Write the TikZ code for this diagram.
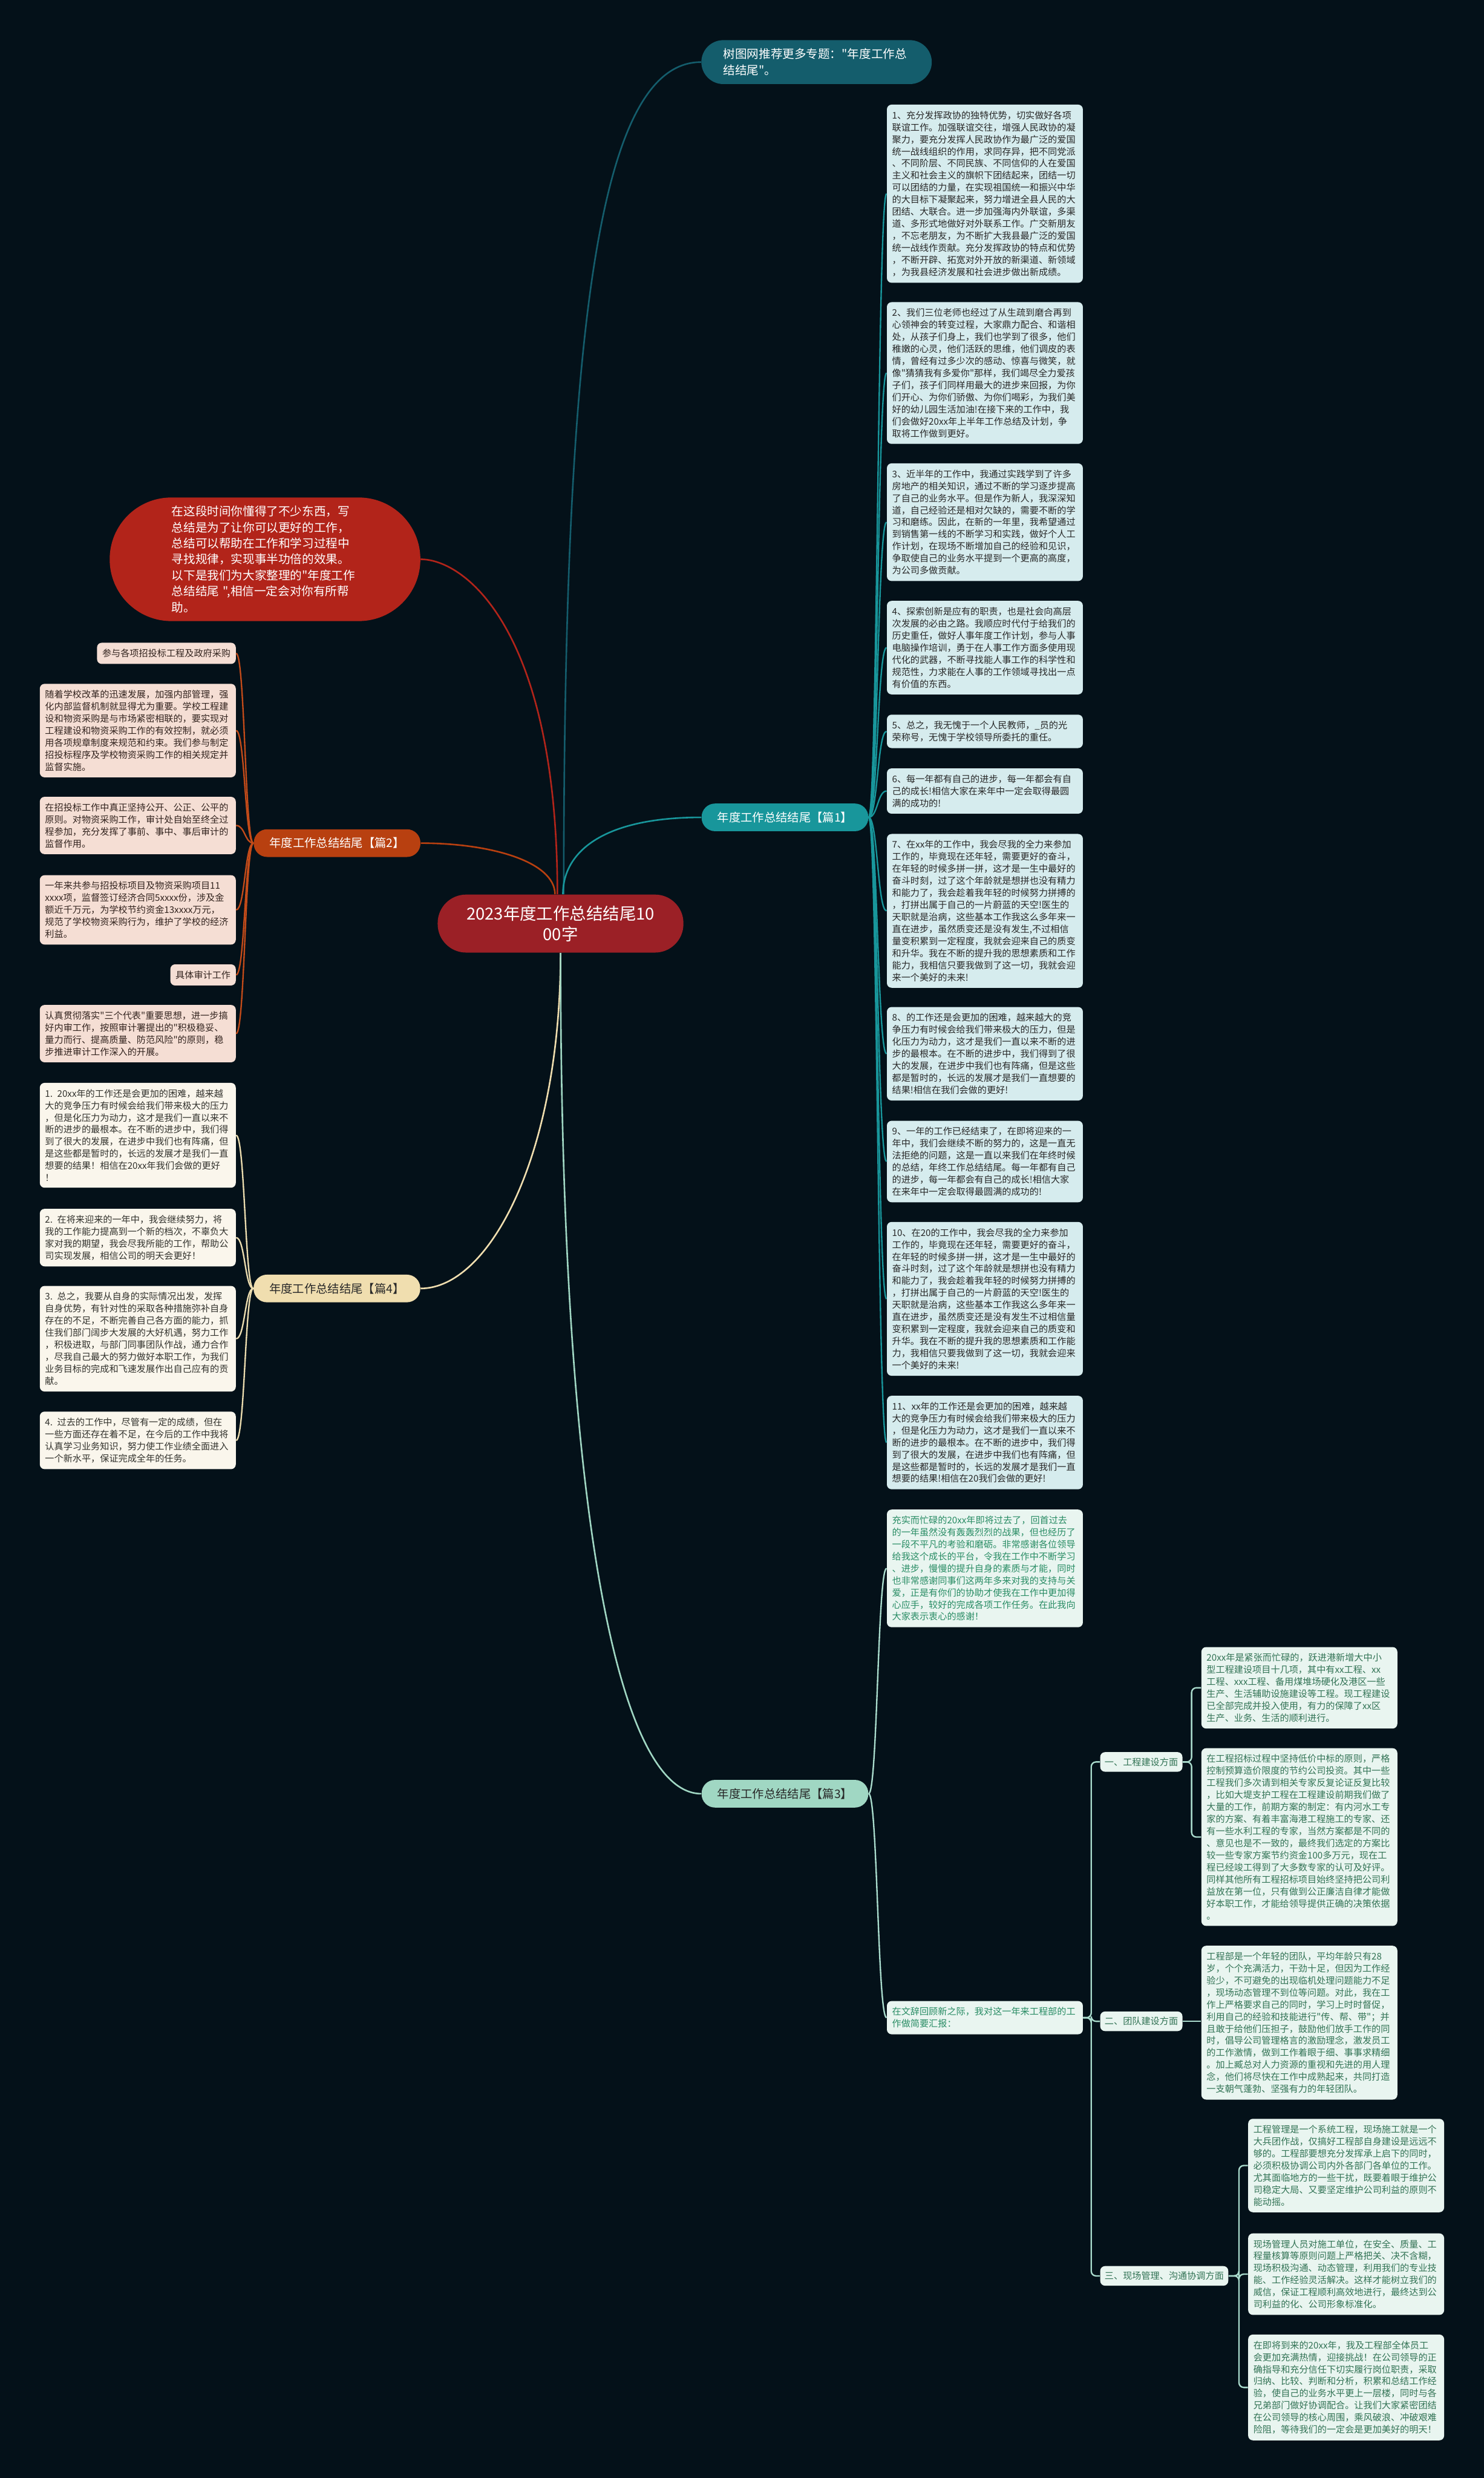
\documentclass[tikz,border=0pt]{standalone}
\usepackage{fontspec}
\setmainfont{Noto Sans CJK SC}
\newfontfamily\cjkf{Noto Sans CJK SC}
\definecolor{bg}{RGB}{4,17,25}
\definecolor{mainred}{RGB}{155,32,38}
\definecolor{topteal}{RGB}{20,93,108}
\definecolor{tealA}{RGB}{24,150,155}
\definecolor{fillA}{RGB}{214,236,238}
\definecolor{textA}{RGB}{40,40,40}
\definecolor{mintC}{RGB}{160,215,195}
\definecolor{lineC}{RGB}{170,220,205}
\definecolor{fillC}{RGB}{233,245,240}
\definecolor{textC}{RGB}{50,115,85}
\definecolor{textC0}{RGB}{40,140,100}
\definecolor{introred}{RGB}{178,36,26}
\definecolor{orangeB}{RGB}{184,64,16}
\definecolor{lineB}{RGB}{195,75,25}
\definecolor{fillB}{RGB}{245,222,212}
\definecolor{textB}{RGB}{50,35,30}
\definecolor{creamD}{RGB}{240,222,175}
\definecolor{lineD}{RGB}{235,220,175}
\definecolor{fillD}{RGB}{250,246,236}
\definecolor{textD}{RGB}{50,50,45}
\tikzset{
  rbox/.style={rounded corners=3pt, inner xsep=3.3pt, inner ysep=4pt, text width=117.4pt, align=left, font=\cjkf\fontsize{5.8}{7.63}\selectfont},
  sbox/.style={rounded corners=3pt, inner xsep=3.3pt, inner ysep=4pt, font=\cjkf\fontsize{5.8}{7.63}\selectfont},
  boxA/.style={rbox, fill=fillA, text=textA, anchor=north west},
  boxC/.style={rbox, fill=fillC, text=textC, anchor=north west},
  boxB/.style={rbox, fill=fillB, text=textB, anchor=north east},
  boxD/.style={rbox, fill=fillD, text=textD, anchor=north east},
  subC/.style={sbox, fill=fillC, text=textC, anchor=north west, inner xsep=2.8pt, inner ysep=3.5pt},
  pill/.style={rounded corners=8.5pt, minimum width=105.5pt, minimum height=17.5pt, inner sep=0pt, font=\cjkf\fontsize{7.4}{9}\selectfont},
  lnA/.style={draw=tealA, line width=0.9pt},
  lnB/.style={draw=lineB, line width=0.9pt},
  lnC/.style={draw=lineC, line width=0.9pt},
  lnD/.style={draw=lineD, line width=0.9pt},
  lnCr/.style={draw=lineC, line width=0.9pt, rounded corners=3pt},
}
\newcommand\sconn[4]{\draw[#1] (#2) .. controls (#4 |- #2) and (#4 |- #3) .. (#3);}
\begin{document}
\cjkf
\begin{tikzpicture}[x=1pt,y=-1pt]
\fill[bg] (0,0) rectangle (939,1568);
\useasboundingbox (0,0) rectangle (939,1568);

% mid-x coordinates for brackets
\coordinate (mA) at (555.3,0);
\coordinate (mB) at (155,0);
\coordinate (tC) at (690.5,0);
\coordinate (tC1) at (754,0);
\coordinate (tC3) at (784,0);

% main node
\node[fill=mainred, text=white, rounded corners=18pt, minimum width=155.5pt, minimum height=36.7pt, align=center, inner sep=0pt, font=\cjkf\fontsize{10.5}{13}\selectfont] (main) at (354.7,584.4) {2023年度工作总结结尾10\\00字};

% top node
\node[fill=topteal, text=white, rounded corners=13.9pt, minimum width=145.8pt, minimum height=27.8pt, text width=118pt, align=left, inner sep=0pt, font=\cjkf\fontsize{7.5}{10.4}\selectfont] (top) at (516.7,39.3) {树图网推荐更多专题："年度工作总\\结结尾"。};

% intro node
\node[fill=introred, text=white, rounded corners=39pt, minimum width=196.6pt, minimum height=78.2pt, text width=118pt, align=left, inner sep=0pt, font=\cjkf\fontsize{7.5}{10.1}\selectfont] (intro) at (167.7,353.9) {在这段时间你懂得了不少东西，写\\总结是为了让你可以更好的工作，\\总结可以帮助在工作和学习过程中\\寻找规律，实现事半功倍的效果。\\以下是我们为大家整理的"年度工作\\总结结尾 ",相信一定会对你有所帮\\助。};

% branch labels
\node[pill, fill=tealA, text=white] (labA) at (496.7,517.2) {年度工作总结结尾【篇1】};
\node[pill, fill=mintC, text=textA] (labC) at (496.7,1135) {年度工作总结结尾【篇3】};
\node[pill, fill=orangeB, text=white] (labB) at (213.3,533.5) {年度工作总结结尾【篇2】};
\node[pill, fill=creamD, text=textA] (labD) at (213.2,815.3) {年度工作总结结尾【篇4】};

% main connectors
\draw[draw=topteal, line width=1pt] ([xshift=2pt]main.north) .. controls (356.7,200) and (380,39.3) .. (top.west);
\draw[draw=tealA, line width=1pt] ([xshift=1.5pt]main.north) .. controls (356.2,540) and (380,517.2) .. (labA.west);
\draw[draw=introred, line width=1pt] ([xshift=-2pt]main.north) .. controls (352.7,400) and (295,353.9) .. (intro.east);
\draw[draw=orangeB, line width=1pt] ([xshift=-3.5pt]main.north) .. controls (351,545) and (310,533.5) .. (labB.east);
\draw[draw=creamD, line width=1pt] (main.south) .. controls (354.7,730) and (310,815.3) .. (labD.east);
\draw[draw=mintC, line width=1pt] (main.south) .. controls (354.7,950) and (390,1135) .. (labC.west);

% ---------- branch 1 ----------
\node[boxA] (a1) at (561,66) {1、充分发挥政协的独特优势，切实做好各项\\联谊工作。加强联谊交往，增强人民政协的凝\\聚力，要充分发挥人民政协作为最广泛的爱国\\统一战线组织的作用，求同存异，把不同党派\\、不同阶层、不同民族、不同信仰的人在爱国\\主义和社会主义的旗帜下团结起来，团结一切\\可以团结的力量，在实现祖国统一和振兴中华\\的大目标下凝聚起来，努力增进全县人民的大\\团结、大联合。进一步加强海内外联谊，多渠\\道、多形式地做好对外联系工作。广交新朋友\\，不忘老朋友，为不断扩大我县最广泛的爱国\\统一战线作贡献。充分发挥政协的特点和优势\\，不断开辟、拓宽对外开放的新渠道、新领域\\，为我县经济发展和社会进步做出新成绩。};
\node[boxA] (a2) at (561,191) {2、我们三位老师也经过了从生疏到磨合再到\\心领神会的转变过程，大家鼎力配合、和谐相\\处，从孩子们身上，我们也学到了很多，他们\\稚嫩的心灵，他们活跃的思维，他们调皮的表\\情，曾经有过多少次的感动、惊喜与微笑，就\\像"猜猜我有多爱你"那样，我们竭尽全力爱孩\\子们，孩子们同样用最大的进步来回报，为你\\们开心、为你们骄傲、为你们喝彩，为我们美\\好的幼儿园生活加油!在接下来的工作中，我\\们会做好20xx年上半年工作总结及计划，争\\取将工作做到更好。};
\node[boxA] (a3) at (561,293) {3、近半年的工作中，我通过实践学到了许多\\房地产的相关知识，通过不断的学习逐步提高\\了自己的业务水平。但是作为新人，我深深知\\道，自己经验还是相对欠缺的，需要不断的学\\习和磨练。因此，在新的一年里，我希望通过\\到销售第一线的不断学习和实践，做好个人工\\作计划，在现场不断增加自己的经验和见识，\\争取使自己的业务水平提到一个更高的高度，\\为公司多做贡献。};
\node[boxA] (a4) at (561,380) {4、探索创新是应有的职责，也是社会向高层\\次发展的必由之路。我顺应时代付于给我们的\\历史重任，做好人事年度工作计划，参与人事\\电脑操作培训，勇于在人事工作方面多使用现\\代化的武器，不断寻找能人事工作的科学性和\\规范性，力求能在人事的工作领域寻找出一点\\有价值的东西。};
\node[boxA] (a5) at (561,452) {5、总之，我无愧于一个人民教师，\_员的光\\荣称号，无愧于学校领导所委托的重任。};
\node[boxA] (a6) at (561,486) {6、每一年都有自己的进步，每一年都会有自\\己的成长!相信大家在来年中一定会取得最圆\\满的成功的!};
\node[boxA] (a7) at (561,527.5) {7、在xx年的工作中，我会尽我的全力来参加\\工作的，毕竟现在还年轻，需要更好的奋斗，\\在年轻的时候多拼一拼，这才是一生中最好的\\奋斗时刻，过了这个年龄就是想拼也没有精力\\和能力了，我会趁着我年轻的时候努力拼搏的\\，打拼出属于自己的一片蔚蓝的天空!医生的\\天职就是治病，这些基本工作我这么多年来一\\直在进步，虽然质变还是没有发生,不过相信\\量变积累到一定程度，我就会迎来自己的质变\\和升华。我在不断的提升我的思想素质和工作\\能力，我相信只要我做到了这一切，我就会迎\\来一个美好的未来!};
\node[boxA] (a8) at (561,637) {8、的工作还是会更加的困难，越来越大的竞\\争压力有时候会给我们带来极大的压力，但是\\化压力为动力，这才是我们一直以来不断的进\\步的最根本。在不断的进步中，我们得到了很\\大的发展，在进步中我们也有阵痛，但是这些\\都是暂时的，长远的发展才是我们一直想要的\\结果!相信在我们会做的更好!};
\node[boxA] (a9) at (561,709) {9、一年的工作已经结束了，在即将迎来的一\\年中，我们会继续不断的努力的，这是一直无\\法拒绝的问题，这是一直以来我们在年终时候\\的总结，年终工作总结结尾。每一年都有自己\\的进步，每一年都会有自己的成长!相信大家\\在来年中一定会取得最圆满的成功的!};
\node[boxA] (a10) at (561,773) {10、在20的工作中，我会尽我的全力来参加\\工作的，毕竟现在还年轻，需要更好的奋斗，\\在年轻的时候多拼一拼，这才是一生中最好的\\奋斗时刻，过了这个年龄就是想拼也没有精力\\和能力了，我会趁着我年轻的时候努力拼搏的\\，打拼出属于自己的一片蔚蓝的天空!医生的\\天职就是治病，这些基本工作我这么多年来一\\直在进步，虽然质变还是没有发生不过相信量\\变积累到一定程度，我就会迎来自己的质变和\\升华。我在不断的提升我的思想素质和工作能\\力，我相信只要我做到了这一切，我就会迎来\\一个美好的未来!};
\node[boxA] (a11) at (561,883) {11、xx年的工作还是会更加的困难，越来越\\大的竞争压力有时候会给我们带来极大的压力\\，但是化压力为动力，这才是我们一直以来不\\断的进步的最根本。在不断的进步中，我们得\\到了很大的发展，在进步中我们也有阵痛，但\\是这些都是暂时的，长远的发展才是我们一直\\想要的结果!相信在20我们会做的更好!};
\foreach \n in {a1,a2,a3,a4,a5,a6,a7,a8,a9,a10,a11}{\sconn{lnA}{labA.east}{\n.west}{mA}}

% ---------- branch 3 ----------
\node[boxC, text=textC0] (c0) at (561,955) {充实而忙碌的20xx年即将过去了，回首过去\\的一年虽然没有轰轰烈烈的战果，但也经历了\\一段不平凡的考验和磨砺。非常感谢各位领导\\给我这个成长的平台，令我在工作中不断学习\\、进步，慢慢的提升自身的素质与才能，同时\\也非常感谢同事们这两年多来对我的支持与关\\爱，正是有你们的协助才使我在工作中更加得\\心应手，较好的完成各项工作任务。在此我向\\大家表示衷心的感谢！};
\node[boxC, text=textC0] (c1) at (561,1266) {在文辞回顾新之际，我对这一年来工程部的工\\作做简要汇报：};
\sconn{lnC}{labC.east}{c0.west}{mA}
\sconn{lnC}{labC.east}{c1.west}{mA}

\node[subC] (s1) at (696,1108.5) {一、工程建设方面};
\node[subC] (s2) at (696,1272.6) {二、团队建设方面};
\node[subC] (s3) at (696,1433.7) {三、现场管理、沟通协调方面};
\foreach \n in {s1,s2,s3}{\draw[lnCr] (c1.east) -- (tC |- c1.east) |- (\n.west);}

\node[boxC] (d1) at (760,1042) {20xx年是紧张而忙碌的，跃进港新增大中小\\型工程建设项目十几项，其中有xx工程、xx\\工程、xxx工程、备用煤堆场硬化及港区一些\\生产、生活辅助设施建设等工程。现工程建设\\已全部完成并投入使用，有力的保障了xx区\\生产、业务、生活的顺利进行。};
\node[boxC] (d2) at (760,1106) {在工程招标过程中坚持低价中标的原则，严格\\控制预算造价限度的节约公司投资。其中一些\\工程我们多次请到相关专家反复论证反复比较\\，比如大堤支护工程在工程建设前期我们做了\\大量的工作，前期方案的制定：有内河水工专\\家的方案、有着丰富海港工程施工的专家、还\\有一些水利工程的专家，当然方案都是不同的\\、意见也是不一致的，最终我们选定的方案比\\较一些专家方案节约资金100多万元，现在工\\程已经竣工得到了大多数专家的认可及好评。\\同样其他所有工程招标项目始终坚持把公司利\\益放在第一位，只有做到公正廉洁自律才能做\\好本职工作，才能给领导提供正确的决策依据\\。};
\foreach \n in {d1,d2}{\draw[lnCr] (s1.east) -- (tC1 |- s1.east) |- (\n.west);}

\node[boxC] (e1) at (760,1231) {工程部是一个年轻的团队，平均年龄只有28\\岁，个个充满活力，干劲十足，但因为工作经\\验少，不可避免的出现临机处理问题能力不足\\，现场动态管理不到位等问题。对此，我在工\\作上严格要求自己的同时，学习上时时督促，\\利用自己的经验和技能进行"传、帮、带"；并\\且敢于给他们压担子，鼓励他们放手工作的同\\时，倡导公司管理格言的激励理念，激发员工\\的工作激情，做到工作着眼于细、事事求精细\\。加上臧总对人力资源的重视和先进的用人理\\念，他们将尽快在工作中成熟起来，共同打造\\一支朝气蓬勃、坚强有力的年轻团队。};
\draw[lnC] (s2.east) -- (e1.west |- s2.east);

\node[boxC] (f1) at (789.6,1340.5) {工程管理是一个系统工程，现场施工就是一个\\大兵团作战，仅搞好工程部自身建设是远远不\\够的。工程部要想充分发挥承上启下的同时，\\必须积极协调公司内外各部门各单位的工作。\\尤其面临地方的一些干扰，既要着眼于维护公\\司稳定大局、又要坚定维护公司利益的原则不\\能动摇。};
\node[boxC] (f2) at (789.6,1413) {现场管理人员对施工单位，在安全、质量、工\\程量核算等原则问题上严格把关、决不含糊，\\现场积极沟通、动态管理，利用我们的专业技\\能、工作经验灵活解决。这样才能树立我们的\\威信，保证工程顺利高效地进行，最终达到公\\司利益的化、公司形象标准化。};
\node[boxC] (f3) at (789.6,1477) {在即将到来的20xx年，我及工程部全体员工\\会更加充满热情，迎接挑战！在公司领导的正\\确指导和充分信任下切实履行岗位职责，采取\\归纳、比较、判断和分析，积累和总结工作经\\验，使自己的业务水平更上一层楼，同时与各\\兄弟部门做好协调配合。让我们大家紧密团结\\在公司领导的核心周围，乘风破浪、冲破艰难\\险阻，等待我们的一定会是更加美好的明天！};
\foreach \n in {f1,f2,f3}{\draw[lnCr] (s3.east) -- (tC3 |- s3.east) |- (\n.west);}

% ---------- branch 2 ----------
\node[sbox, fill=fillB, text=textB, anchor=north east] (b1) at (149.4,406.5) {参与各项招投标工程及政府采购};
\node[boxB] (b2) at (149.4,432.5) {随着学校改革的迅速发展，加强内部管理，强\\化内部监督机制就显得尤为重要。学校工程建\\设和物资采购是与市场紧密相联的，要实现对\\工程建设和物资采购工作的有效控制，就必须\\用各项规章制度来规范和约束。我们参与制定\\招投标程序及学校物资采购工作的相关规定并\\监督实施。};
\node[boxB] (b3) at (149.4,504) {在招投标工作中真正坚持公开、公正、公平的\\原则。对物资采购工作，审计处自始至终全过\\程参加，充分发挥了事前、事中、事后审计的\\监督作用。};
\node[boxB] (b4) at (149.4,553.6) {一年来共参与招投标项目及物资采购项目11\\xxxx项，监督签订经济合同5xxxx份，涉及金\\额近千万元，为学校节约资金13xxxx万元，\\规范了学校物资采购行为，维护了学校的经济\\利益。};
\node[sbox, fill=fillB, text=textB, anchor=north east] (b5) at (149.4,610) {具体审计工作};
\node[boxB] (b6) at (149.4,635.7) {认真贯彻落实"三个代表"重要思想，进一步搞\\好内审工作，按照审计署提出的"积极稳妥、\\量力而行、提高质量、防范风险"的原则，稳\\步推进审计工作深入的开展。};
\foreach \n in {b1,b2,b3,b4,b5,b6}{\sconn{lnB}{labB.west}{\n.east}{mB}}

% ---------- branch 4 ----------
\node[boxD] (q1) at (149.4,685) {1. 20xx年的工作还是会更加的困难，越来越\\大的竞争压力有时候会给我们带来极大的压力\\，但是化压力为动力，这才是我们一直以来不\\断的进步的最根本。在不断的进步中，我们得\\到了很大的发展，在进步中我们也有阵痛，但\\是这些都是暂时的，长远的发展才是我们一直\\想要的结果！相信在20xx年我们会做的更好\\！};
\node[boxD] (q2) at (149.4,764.7) {2. 在将来迎来的一年中，我会继续努力，将\\我的工作能力提高到一个新的档次，不辜负大\\家对我的期望，我会尽我所能的工作，帮助公\\司实现发展，相信公司的明天会更好！};
\node[boxD] (q3) at (149.4,813.5) {3. 总之，我要从自身的实际情况出发，发挥\\自身优势，有针对性的采取各种措施弥补自身\\存在的不足，不断完善自己各方面的能力，抓\\住我们部门阔步大发展的大好机遇，努力工作\\，积极进取，与部门同事团队作战，通力合作\\，尽我自己最大的努力做好本职工作，为我们\\业务目标的完成和飞速发展作出自己应有的贡\\献。};
\node[boxD] (q4) at (149.4,893) {4. 过去的工作中，尽管有一定的成绩，但在\\一些方面还存在着不足，在今后的工作中我将\\认真学习业务知识，努力使工作业绩全面进入\\一个新水平，保证完成全年的任务。};
\foreach \n in {q1,q2,q3,q4}{\sconn{lnD}{labD.west}{\n.east}{mB}}
\end{tikzpicture}
\end{document}
